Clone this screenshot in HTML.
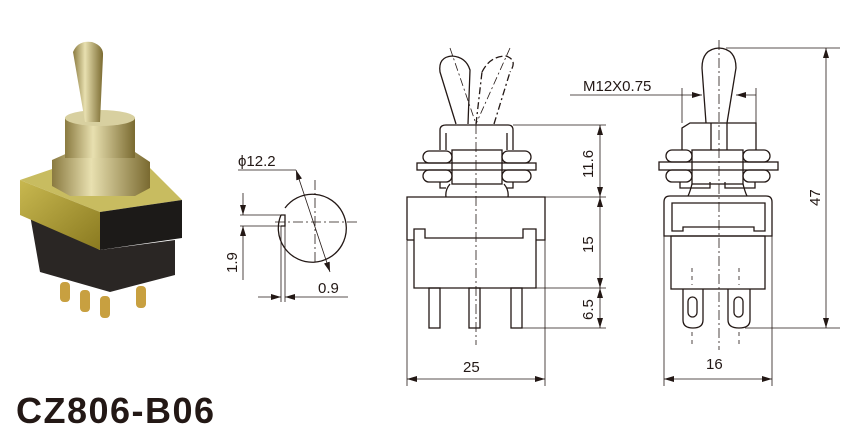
<!DOCTYPE html>
<html><head><meta charset="utf-8"><style>
html,body{margin:0;padding:0;background:#fff;width:852px;height:432px;overflow:hidden}
svg{display:block}
text{font-family:"Liberation Sans",Arial,sans-serif;fill:#231815}
</style></head><body>
<svg width="852" height="432" viewBox="0 0 852 432" xmlns="http://www.w3.org/2000/svg">
<defs>
<marker id="a" viewBox="0 0 10 6" refX="10" refY="3" markerWidth="10" markerHeight="6" orient="auto-start-reverse" markerUnits="userSpaceOnUse"><path d="M0,0 L10,3 L0,6 z" fill="#231815"/></marker>
<linearGradient id="g1" x1="0" x2="1"><stop offset="0" stop-color="#8a7a40"/><stop offset=".4" stop-color="#e8e0b0"/><stop offset="1" stop-color="#7a6a30"/></linearGradient>
<linearGradient id="g2" x1="0" x2="1" y1="0" y2="1"><stop offset="0" stop-color="#c8b850"/><stop offset="1" stop-color="#8a7a20"/></linearGradient>
</defs>

<!-- Photo -->
<g>
<path d="M20,180 L55,168 L150,168 L182,200 L100,212 Z" fill="#c8bc60"/>
<path d="M30,215 L100,250 L175,240 L175,275 L110,292 L40,272 Z" fill="#2a2624"/>
<path d="M20,180 L100,212 L100,250 L20,215 Z" fill="url(#g2)"/>
<path d="M100,212 L182,200 L182,238 L100,250 Z" fill="#1c1a18"/>
<path d="M52,160 L70,152 L135,152 L150,162 L150,188 L135,196 L70,196 L52,186 Z" fill="url(#g1)"/>
<rect x="65" y="118" width="70" height="40" fill="url(#g1)"/>
<ellipse cx="100" cy="118" rx="35" ry="8" fill="#d8d0a0"/>
<path d="M73,52 Q78,40 92,42 Q104,46 103,56 L100,122 L85,122 Z" fill="url(#g1)"/>
<g fill="#c8a040"><rect x="60" y="282" width="10" height="20" rx="4"/><rect x="80" y="290" width="10" height="22" rx="4"/><rect x="100" y="296" width="10" height="22" rx="4"/><rect x="136" y="286" width="10" height="22" rx="4"/></g>
</g>

<g fill="none" stroke="#231815" stroke-width="1.3">
<!-- circle view -->
<path d="M281,215 A34,34 0 1 0 285,208" />
<path d="M281,215 L285,215 L285,226 L281,226"/>
<line x1="240" y1="215" x2="285" y2="215" stroke-width="0.8"/>
<line x1="240" y1="226" x2="285" y2="226" stroke-width="0.8"/>
<line x1="281" y1="226" x2="281" y2="302" stroke-width="0.8"/>
<line x1="285" y1="226" x2="285" y2="302" stroke-width="0.8"/>
<line x1="275" y1="222" x2="360" y2="222" stroke-width="0.8" stroke-dasharray="10,3,2,3"/>
<line x1="315" y1="180" x2="315" y2="265" stroke-width="0.8" stroke-dasharray="10,3,2,3"/>
<line x1="238" y1="170" x2="296" y2="170" stroke-width="0.8"/>
<line x1="296" y1="170" x2="330" y2="272" stroke-width="0.8" marker-start="url(#a)" marker-end="url(#a)"/>
<line x1="243" y1="193" x2="243" y2="215" stroke-width="0.8" marker-end="url(#a)"/>
<line x1="243" y1="226" x2="243" y2="280" stroke-width="0.8" marker-start="url(#a)"/>
<line x1="258" y1="297" x2="281" y2="297" stroke-width="0.8" marker-end="url(#a)"/>
<line x1="285" y1="297" x2="348" y2="297" stroke-width="0.8" marker-start="url(#a)"/>

<!-- front view -->
<path d="M456,124 L440,72 Q438,57 452,56 Q466,57 470,70 L468,124"/>
<path d="M476,124 L482,72 M494,124 L510,72" stroke-dasharray="7,3,2,3"/>
<path d="M482,72 Q490,56 506,56 Q518,60 510,72" stroke-dasharray="7,3"/>
<line x1="450" y1="48" x2="476" y2="124" stroke-width="0.8" stroke-dasharray="8,3,2,3"/>
<line x1="510" y1="48" x2="476" y2="124" stroke-width="0.8" stroke-dasharray="8,3,2,3"/>
<path d="M440,150 L440,130 Q440,125 446,125 L508,125 Q513,125 513,130 L513,150"/>
<line x1="446" y1="133" x2="446" y2="150"/><line x1="507" y1="133" x2="507" y2="150"/>
<rect x="452" y="150" width="50" height="34"/>
<rect x="417" y="163" width="119" height="7"/>
<rect x="423" y="151" width="29" height="12" rx="6"/><rect x="423" y="170" width="29" height="12" rx="6"/>
<rect x="502" y="151" width="29" height="12" rx="6"/><rect x="502" y="170" width="29" height="12" rx="6"/>
<path d="M440,182 L440,188 L446,188 M513,182 L513,188 L507,188"/>
<path d="M450,184 Q445,190 446,197 M504,184 Q509,190 508,197"/>
<path d="M407,240 L407,197 L545,197 L545,240 L536,240"/>
<path d="M414,240 L407,240"/>
<path d="M414,288 L414,229 L425,229 L425,238 L523,238 L523,229 L536,229 L536,288 Z"/>
<rect x="429" y="288" width="11" height="40"/><rect x="469" y="288" width="11" height="40"/><rect x="511" y="288" width="11" height="40"/>
<line x1="476" y1="124" x2="476" y2="345" stroke-width="0.8" stroke-dasharray="10,3,2,3"/>
<!-- dims front -->
<g stroke-width="0.8">
<line x1="513" y1="125" x2="606" y2="125"/><line x1="545" y1="197" x2="606" y2="197"/>
<line x1="536" y1="288" x2="606" y2="288"/><line x1="522" y1="328" x2="606" y2="328"/>
<line x1="600" y1="125" x2="600" y2="197" marker-start="url(#a)" marker-end="url(#a)"/>
<line x1="600" y1="197" x2="600" y2="288" marker-start="url(#a)" marker-end="url(#a)"/>
<line x1="600" y1="288" x2="600" y2="328" marker-start="url(#a)" marker-end="url(#a)"/>
<line x1="407" y1="240" x2="407" y2="386"/><line x1="545" y1="240" x2="545" y2="386"/>
<line x1="407" y1="379" x2="545" y2="379" marker-start="url(#a)" marker-end="url(#a)"/>
</g>

<!-- side view -->
<path d="M706,123 L702,68 Q702,49 719,48 Q736,49 736,68 L727,123"/>
<path d="M682,150 L682,128 L690,123 L756,123 L756,150"/>
<path d="M711,123 L711,150 M727,123 L727,150"/>
<rect x="692" y="150" width="51" height="34"/>
<rect x="659" y="162" width="119" height="8"/>
<rect x="666" y="150" width="26" height="12" rx="6"/><rect x="666" y="170" width="26" height="12" rx="6"/>
<rect x="743" y="150" width="27" height="12" rx="6"/><rect x="743" y="170" width="27" height="12" rx="6"/>
<path d="M680,182 L680,188 L710,188 L710,182 M725,182 L725,188 L755,188 L755,182"/>
<path d="M692,184 Q690,192 688,196 M743,184 Q745,192 747,196"/>
<path d="M664,236 L664,202 Q664,196 670,196 L766,196 Q772,196 772,202 L772,236 Z"/>
<path d="M672,231 L672,203 L765,203 L765,231 L754,231 L754,227 L683,227 L683,231 Z"/>
<rect x="671" y="236" width="94" height="53"/>
<path d="M683,289 L683,320 Q683,328 693,328 Q703,328 703,320 L703,289"/>
<path d="M728,289 L728,320 Q728,328 739,328 Q750,328 750,320 L750,289"/>
<rect x="688" y="297" width="9" height="20" rx="4.5"/><rect x="734" y="297" width="9" height="20" rx="4.5"/>
<line x1="719" y1="40" x2="719" y2="350" stroke-width="0.8" stroke-dasharray="10,3,2,3"/>
<g stroke-width="0.8" stroke-dasharray="4,4"><line x1="692" y1="268" x2="692" y2="285"/><line x1="739" y1="268" x2="739" y2="285"/><line x1="692" y1="332" x2="692" y2="345"/><line x1="739" y1="332" x2="739" y2="345"/></g>
<g stroke-width="0.8">
<line x1="664" y1="236" x2="664" y2="386"/><line x1="772" y1="236" x2="772" y2="386"/>
<line x1="664" y1="379" x2="772" y2="379" marker-start="url(#a)" marker-end="url(#a)"/>
<line x1="726" y1="48" x2="840" y2="48"/><line x1="745" y1="328" x2="840" y2="328"/>
<line x1="826" y1="48" x2="826" y2="328" marker-start="url(#a)" marker-end="url(#a)"/>
<line x1="682" y1="88" x2="682" y2="123"/><line x1="756" y1="88" x2="756" y2="123"/>
<line x1="570" y1="95" x2="702" y2="95" marker-end="url(#a)"/>
<line x1="756" y1="95" x2="736" y2="95" marker-end="url(#a)"/>
</g>
</g>

<g font-size="15">
<text x="238" y="166">ϕ12.2</text>
<text x="318" y="293">0.9</text>
<text transform="translate(237,273) rotate(-90)">1.9</text>
<text x="583" y="91">M12X0.75</text>
<text transform="translate(593,178) rotate(-90)">11.6</text>
<text transform="translate(593,253) rotate(-90)">15</text>
<text transform="translate(593,320) rotate(-90)">6.5</text>
<text x="463" y="372">25</text>
<text x="706" y="369">16</text>
<text transform="translate(820,206) rotate(-90)">47</text>
</g>
<text x="16" y="423" font-size="36" font-weight="bold" letter-spacing="1.5">CZ806-B06</text>
</svg>
</body></html>
